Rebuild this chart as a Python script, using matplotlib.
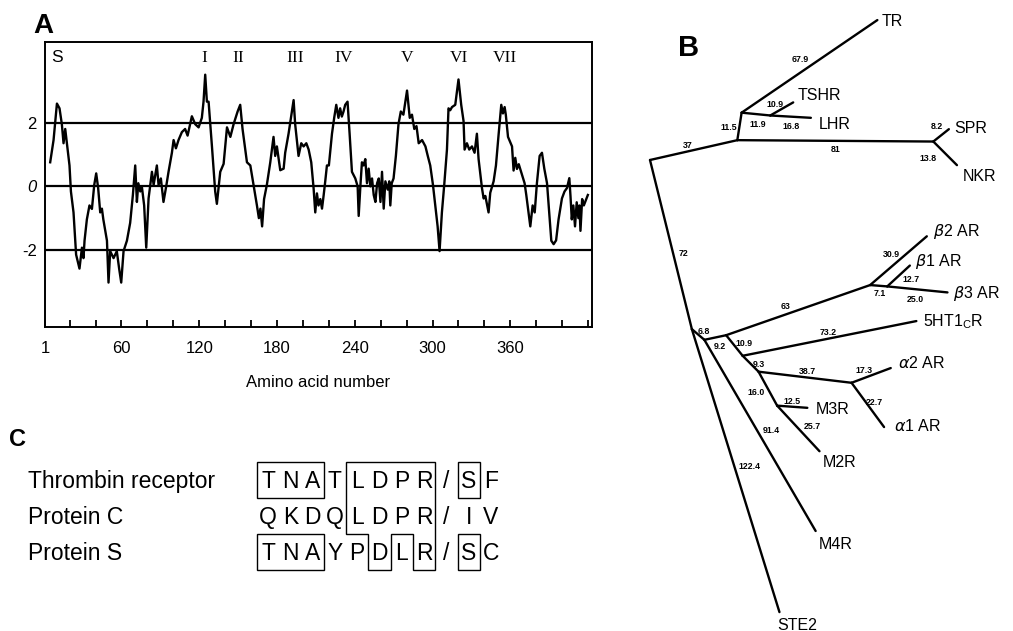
import math
import matplotlib
matplotlib.use("Agg")
import matplotlib.pyplot as plt
from matplotlib.patches import Polygon, Rectangle

# ---------------- Panel A: hydropathy profile ----------------
aa_pos = [5, 7.6, 10.2, 12.2, 14, 15.3, 16.6, 17.9, 19.9, 21, 23, 25, 27.6, 29.5, 30.7, 31.5,
          33.3, 35.3, 37.2, 39, 40.5, 42, 43.6, 44.9, 46, 48.8, 50, 51.3, 53.9, 56.4, 58.2,
          59.8, 61.6, 64.2, 66.7, 68.8, 70.6, 71.9, 73, 74.5, 75.7, 77.5, 79.1, 80.9, 83.5,
          84.8, 87.3, 88.6, 90.4, 92.4, 94.5, 96.3, 98.9, 100.2, 102, 104, 106.6, 109.1, 111,
          114.3, 116.9, 119.5, 122, 123.3, 124.6, 125.9, 127.2, 129.8, 132.3, 133.6, 136.2,
          138.8, 141.4, 144, 146.5, 149.6, 151.6, 153.4, 156.8, 159.4, 161.9, 164.5, 166,
          167.2, 168.5, 170, 172.2, 174.8, 177.3, 178.6, 179.9, 182.5, 185.1, 186.3, 188.9,
          191.5, 192.8, 194, 195.3, 196.6, 198.7, 200.5, 202.6, 204.4, 206.4, 208.2, 209.5,
          210.8, 212, 213.4, 214.7, 216, 217.2, 218.5, 220, 222.4, 224.1, 225.7, 227.4, 228.7,
          230, 231.3, 232.6, 234.4, 236, 237.8, 240.4, 242.2, 243, 244.3, 245.5, 246.8, 248.1,
          249.4, 250.7, 252, 253.3, 254.6, 255.9, 257.2, 258.5, 259.8, 261, 262.3, 263.6,
          265.4, 266.6, 267.4, 268.5, 269.9, 271.7, 273.7, 275.5, 277.5, 280.3, 282.4, 284.1,
          285.9, 287.6, 289.3, 291.9, 294.5, 296.3, 298.2, 300.3, 302.1, 303.9, 305.4, 307.2,
          309, 311.1, 312.3, 313.6, 315, 317.5, 320, 322.1, 323.9, 324.7, 326.5, 328.3, 330.4,
          332.4, 334.2, 335.5, 338.1, 339.4, 340.7, 343.2, 344.5, 347.1, 348.9, 351, 353,
          354.3, 355.6, 356.5, 358.2, 361.3, 362.5, 363.8, 365.1, 366.5, 368.4, 371, 372.3,
          375.4, 377.2, 378.8, 380.5, 382.6, 384.4, 386.2, 388.3, 389.6, 391.6, 393.4, 395.3,
          397.2, 399.8, 401.8, 403.7, 405.5, 406.4, 407.4, 408.6, 409.9, 411.2, 412.5, 413.3,
          414.1, 415.4, 416.7, 419.8]
hydropathy = [0.76, 1.46, 2.61, 2.46, 1.96, 1.36, 1.81, 1.36, 0.66, -0.16, -0.82, -2.15, -2.59,
              -1.93, -2.26, -1.71, -1.04, -0.60, -0.71, 0.05, 0.41, -0.05, -0.82, -0.70, -1.04,
              -1.71, -3.03, -2.04, -2.26, -2.04, -2.59, -3.03, -2.04, -1.71, -1.15, -0.27, 0.66,
              -0.49, 0.10, -0.16, 0.00, -0.60, -1.93, -0.38, 0.46, 0.05, 0.66, 0.05, 0.25, -0.49,
              0.00, 0.46, 1.06, 1.46, 1.20, 1.46, 1.71, 1.81, 1.60, 2.21, 1.96, 1.86, 2.16, 2.67,
              3.52, 2.67, 2.67, 1.26, -0.16, -0.55, 0.46, 0.71, 1.86, 1.56, 1.96, 2.36, 2.57,
              1.81, 0.76, 0.66, 0.05, -0.60, -1.00, -0.70, -1.26, -0.40, 0.06, 0.76, 1.56, 0.96,
              1.26, 0.51, 0.56, 1.06, 1.66, 2.36, 2.72, 1.96, 1.46, 0.96, 1.36, 1.26, 1.36, 1.16,
              0.76, -0.05, -0.82, -0.22, -0.60, -0.40, -0.70, -0.27, 0.16, 0.66, 0.66, 1.66,
              2.16, 2.57, 2.16, 2.46, 2.20, 2.36, 2.57, 2.67, 1.66, 0.46, 0.25, 0.00, -0.93,
              0.00, 0.76, 0.66, 0.86, 0.10, 0.56, 0.00, 0.25, -0.27, -0.49, 0.10, 0.25, -0.49,
              0.46, -0.70, 0.16, -0.10, 0.16, -0.60, 0.10, 0.25, 0.96, 1.96, 2.36, 2.26, 3.02,
              2.16, 2.26, 1.81, 1.90, 1.36, 1.46, 1.26, 0.96, 0.66, 0.05, -0.60, -1.26, -2.04,
              -0.82, 0.05, 1.16, 2.46, 2.40, 2.50, 2.57, 3.37, 2.57, 2.06, 1.16, 1.36, 1.16, 1.26,
              1.06, 1.66, 0.86, -0.05, -0.38, -0.30, -0.82, -0.20, 0.16, 0.66, 1.66, 2.57, 2.30,
              2.50, 2.26, 1.56, 1.26, 0.50, 0.90, 0.55, 0.70, 0.45, 0.10, -0.27, -1.26, -0.60,
              -0.82, 0.10, 0.96, 1.06, 0.56, 0.10, -0.60, -1.71, -1.82, -1.70, -1.04, -0.38,
              -0.16, -0.05, 0.26, -0.30, -1.04, -0.60, -1.26, -0.50, -1.00, -0.60, -1.40, -0.40,
              -0.60, -0.27]
segment_labels = ["S", "I", "II", "III", "IV", "V", "VI", "VII"]
segment_pos = [10, 124, 150, 194, 231, 280, 320, 356]
ref_levels = [2, 0, -2]
x_tick_vals = [1, 60, 120, 180, 240, 300, 360]
y_tick_vals = [-2, 0, 2]
y_tick_text = ["-2", "0", "2"]

# ---------------- Panel B: receptor tree ----------------
tree_parent = ["root", "A", "A2", "A2", "K", "K", "A", "L", "L", "root", "B", "B", "C", "C",
               "D", "E", "E", "J", "J", "D", "F", "F", "G", "H", "H", "G", "I", "I"]
tree_child = ["A", "A2", "TR", "K", "TSHR", "LHR", "L", "SPR", "NKR", "B", "STE2", "C", "M4R",
              "D", "E", "b2", "J", "b1", "b3", "F", "5HT", "G", "H", "a2", "a1", "I", "M3R", "M2R"]
branch_labels = ["37", "11.5", "67.9", "11.9", "10.9", "16.8", "81", "8.2", "13.8", "72",
                 "122.4", "6.8", "91.4", "9.2", "63", "30.9", "7.1", "12.7", "25.0", "10.9",
                 "73.2", "9.3", "38.7", "17.3", "22.7", "16.0", "12.5", "25.7"]
leaf_keys = ["TR", "TSHR", "LHR", "SPR", "NKR", "b2", "b1", "b3", "5HT", "a2", "a1", "M3R",
             "M2R", "M4R", "STE2"]
leaf_names = ["TR", "TSHR", "LHR", "SPR", "NKR", r"$\beta$2 AR", r"$\beta$1 AR", r"$\beta$3 AR",
              r"5HT1$_\mathregular{C}$R", r"$\alpha$2 AR", r"$\alpha$1 AR", "M3R", "M2R", "M4R", "STE2"]

# ---------------- Panel C: cleavage-site alignment ----------------
seq_names = ["Thrombin receptor", "Protein C", "Protein S"]
seq_rows = ["TNATLDPR/SF", "QKDQLDPR/IV", "TNAYPDLR/SC"]
boxed_runs = [(0, 0, 2), (0, 9, 9), (2, 0, 2), (2, 9, 9)]   # (row, first col, last col)

# ---------------- layout (positions / styles) ----------------
W, H = 1013, 631
SANS = ['Liberation Sans', 'DejaVu Sans']
SERIF = ['Liberation Serif', 'DejaVu Serif']
plt.rcParams['font.family'] = SANS
PX_PER_PT = 100 / 72.0

fig = plt.figure(figsize=(W / 100, H / 100), dpi=100)
canvas = fig.add_axes([0, 0, 1, 1])
canvas.set_xlim(0, W)
canvas.set_ylim(H, 0)
canvas.axis('off')


def cap_text(x, y, s, size, **kw):
    """Place text so that capital letters are vertically centred on y (canvas px)."""
    cap = 0.716 * size * PX_PER_PT
    canvas.text(x, y + cap / 2, s, fontsize=size, va='baseline', **kw)


# ----- Panel A -----
ax = fig.add_axes([45 / W, 1 - 327 / H, 547 / W, 285 / H])
ax.plot(aa_pos, hydropathy, color='black', lw=1.7, solid_joinstyle='round')
for lev in ref_levels:
    ax.axhline(lev, color='black', lw=1.6)
ax.set_xlim(1, 423)
ax.set_ylim(-4.43, 4.55)
ax.set_xticks(x_tick_vals)
ax.set_xticklabels([str(v) for v in x_tick_vals])
ax.set_xticks(list(range(20, 421, 20)), minor=True)
ax.tick_params(axis='x', which='both', direction='in', length=5, width=1.3, pad=10,
               labelsize=12, top=False)
ax.set_yticks(y_tick_vals)
ax.set_yticklabels(y_tick_text)
ax.tick_params(axis='y', length=0, pad=6, labelsize=12)
for lbl in ax.get_yticklabels():
    if lbl.get_text() == "0":
        lbl.set_fontstyle('italic')
for sp in ax.spines.values():
    sp.set_linewidth(1.4)
ax.set_xlabel("Amino acid number", fontsize=12, labelpad=14)
for lab, pos in zip(segment_labels, segment_pos):
    ax.text(pos, 0.944, lab, transform=ax.get_xaxis_transform(), ha='center', va='center',
            fontsize=12.5, family=(SANS if lab == "S" else SERIF))

# panel letters
cap_text(43, 23, "A", 20, ha='center', fontweight='bold')
cap_text(689, 46, "B", 21, ha='center', fontweight='bold')
cap_text(17, 438, "C", 17, ha='center', fontweight='bold')

# ----- Panel B -----
SCALE = 2.42                      # px per unit of branch length
ROOT_XY = (650.0, 160.0)
edge_angle_deg = [-12.8, -81.1, -34.3, 5.6, -29.7, 3.3, 0.4, -38.5, 45.0, 76.1, 72.8, 40.5,
                  59.8, -12.0, -19.2, -40.7, 4.5, -42.7, 5.7, 51.3, -11.3, 45.0, 6.8, -20.6,
                  53.7, 61.3, 4.1, 47.1]
branch_label_offset = [(-6, -5), (-11, 0), (-9, -8), (2, 10), (-7, -5), (1, 9), (0, 8),
                       (-4, -9), (-17, 5), (13, 8), (14, -5), (6, -4), (11, -6), (5, 8),
                       (-13, -4), (-7, -7), (1, 7), (12, 3), (-2, 9), (10, -3), (-1, -7),
                       (8, 0), (2, -6), (-7, -6), (7, -3), (-12, 3), (0, -6), (14, -3)]
leaf_offset = {"TR": (4, 0), "TSHR": (4, -8), "LHR": (8, 5), "SPR": (5, -2), "NKR": (6, 10),
               "b2": (6, -6), "b1": (5, -5), "b3": (6, 0), "5HT": (7, 0), "a2": (7, -6),
               "a1": (10, -2), "M3R": (8, 0), "M2R": (3, 10), "M4R": (3, 12), "STE2": (18, 12)}

node_xy = {"root": ROOT_XY}
for par, chi, lab, ang, off in zip(tree_parent, tree_child, branch_labels, edge_angle_deg,
                                   branch_label_offset):
    length_px = float(lab) * SCALE
    x0, y0 = node_xy[par]
    a = math.radians(ang)
    x1, y1 = x0 + length_px * math.cos(a), y0 + length_px * math.sin(a)
    node_xy[chi] = (x1, y1)
    canvas.plot([x0, x1], [y0, y1], color='black', lw=1.7, solid_capstyle='round')
    cap_text((x0 + x1) / 2 + off[0], (y0 + y1) / 2 + off[1], lab, 6.3, ha='center',
             fontweight='bold')

for key, name in zip(leaf_keys, leaf_names):
    tx, ty = node_xy[key]
    dx, dy = leaf_offset[key]
    cap_text(tx + dx, ty + dy, name, 11.5, ha=('center' if key == "STE2" else 'left'))

# ----- Panel C -----
COL0, DCOL, ROW0, DROW = 268.0, 22.3, 480.0, 36.0
SEQ_SIZE = 16.5
for r, (name, seq) in enumerate(zip(seq_names, seq_rows)):
    y = ROW0 + r * DROW
    cap_text(28, y, name, SEQ_SIZE, ha='left')
    for c, ch in enumerate(seq):
        cap_text(COL0 + c * DCOL, y, ch, SEQ_SIZE, ha='center')

for r, c0, c1 in boxed_runs:
    canvas.add_patch(Rectangle((COL0 + (c0 - 0.5) * DCOL, ROW0 + (r - 0.5) * DROW),
                               (c1 - c0 + 1) * DCOL, DROW, fill=False, lw=1.0,
                               edgecolor='black'))

conserved_outline = [(3.5, -0.5), (7.5, -0.5), (7.5, 2.5), (6.5, 2.5), (6.5, 1.5), (5.5, 1.5),
                     (5.5, 2.5), (4.5, 2.5), (4.5, 1.5), (3.5, 1.5)]
canvas.add_patch(Polygon([(COL0 + c * DCOL, ROW0 + r * DROW) for c, r in conserved_outline],
                         closed=True, fill=False, lw=1.0, edgecolor='black'))

fig.savefig("out.png", dpi=100)
